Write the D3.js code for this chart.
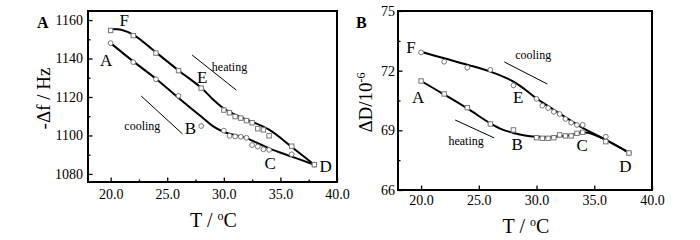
<!DOCTYPE html>
<html>
<head>
<meta charset="utf-8">
<style>
  body { margin: 0; background: #fff; }
  text { font-family: "Liberation Serif", "Times New Roman", serif; fill: #000; }
</style>
</head>
<body>
<svg id="chart" width="700" height="240"></svg>
<script src="https://cdn.jsdelivr.net/npm/d3@7"></script>
<script>
// ---- panel A: -Δf / Hz ----
const tempA = [20, 22, 24, 26, 28, 30, 30.5, 31, 31.5, 32, 32.5, 33, 33.5, 34, 36, 38]
const heatA = [1148, 1138.1, 1129.2, 1120.6, 1104.9, 1102.5, 1099.8, 1099.5, 1099.3, 1098.8, 1095, 1094.2, 1092.8, 1092.5, 1090.2, 1084.8]
const coolA = [1154.6, 1151.9, 1142.8, 1133.7, 1124.6, 1113.2, 1111.8, 1109.8, 1109, 1107.7, 1106.6, 1103.5, 1102.9, 1099.8, 1094.4, 1084.8]
// smooth guide curves
const fitHeatAT = [20, 22, 24, 26, 28, 29, 30, 31, 32, 34, 36, 38]
const fitHeatA = [1148, 1138.5, 1129.5, 1119.5, 1109.8, 1105, 1101.8, 1100.2, 1098.6, 1093.3, 1089, 1084.8]
const fitCoolAT = [20, 21, 22, 24, 26, 28, 29, 30, 31, 32, 34, 36, 38]
const fitCoolA = [1155.3, 1154.8, 1152.4, 1143.2, 1133.8, 1124.8, 1119, 1114, 1110.8, 1108.3, 1103, 1094, 1084.8]

// ---- panel B: ΔD / 10^-6 ----
const tempB = [20, 22, 24, 26, 28, 30, 30.5, 31, 31.5, 32, 32.5, 33, 33.5, 34, 36, 38]
const coolB = [72.92, 72.45, 72.15, 72.04, 71.26, 70.58, 70.24, 70.12, 69.93, 69.82, 69.57, 69.39, 69.27, 69.27, 68.68, 67.86]
const heatB = [71.48, 70.83, 70.14, 69.32, 69.02, 68.63, 68.6, 68.6, 68.63, 68.77, 68.72, 68.72, 68.85, 68.9, 68.43, 67.86]
const fitCoolBT = [20, 22, 24, 26, 28, 29, 30, 31, 32, 33, 34, 36, 38]
const fitCoolB = [72.95, 72.62, 72.3, 71.95, 71.45, 71.05, 70.6, 70.22, 69.84, 69.48, 69.12, 68.52, 67.88]
const fitHeatBT = [20, 22, 24, 26, 27, 28, 29, 30, 31, 32, 33, 34, 35, 36, 38]
const fitHeatB = [71.48, 70.8, 70.1, 69.35, 69.05, 68.87, 68.74, 68.68, 68.66, 68.7, 68.76, 68.9, 68.78, 68.52, 67.88]

// tick values
const xTicks = [20, 25, 30, 35, 40]
const xMinorA = [22.5, 27.5, 32.5, 37.5]
const yTicksA = [1080, 1100, 1120, 1140, 1160]
const yMinorA = [1090, 1110, 1130, 1150]
const yTicksB = [66, 69, 72, 75]
const yMinorB = [67.5, 70.5, 73.5]

// point letters and notes, in data units (x, y = text baseline)
const lettersA = [["F", 21.2, 1156.9], ["A", 19.6, 1136.1], ["E", 28.1, 1127.3], ["B", 27.05, 1100.8], ["C", 34.1, 1082.6], ["D", 39.0, 1081]]
const notesA = [["heating", 30.5, 1133.5], ["cooling", 22.8, 1102.9]]
const arrowsA = [[27.2, 1141.8, 31.1, 1123.6], [22.7, 1120.5, 26.35, 1100.8]]
const lettersB = [["F", 19.13, 72.89], ["A", 19.74, 70.38], ["E", 28.41, 70.38], ["B", 28.33, 68.02], ["C", 33.96, 67.96], ["D", 37.69, 66.91]]
const notesB = [["cooling", 29.71, 72.59], ["heating", 23.9, 68.27]]
const arrowsB = [[27.2, 72.44, 30.93, 71.33], [22.95, 69.52, 26.33, 68.62]]

let svg = d3.select("#chart")

function panel(cfg) {
    let x = d3.scaleLinear().domain([18, 40]).range([cfg.left, cfg.right])
    let y = d3.scaleLinear().domain(cfg.yDomain).range([cfg.bottom, cfg.top])
    let g = svg.append("g")

    // minor ticks first so majors sit on top
    if (cfg.xMinor) {
        g.append("g").attr("transform", `translate(0,${cfg.bottom})`)
            .call(d3.axisBottom(x).tickValues(cfg.xMinor).tickSize(-2.5).tickFormat(""))
            .call(a => a.select(".domain").remove())
    }
    g.append("g").attr("transform", `translate(${cfg.left},0)`)
        .call(d3.axisLeft(y).tickValues(cfg.yMinor).tickSize(-2.5).tickFormat(""))
        .call(a => a.select(".domain").remove())

    let xa = g.append("g").attr("transform", `translate(0,${cfg.bottom})`)
        .call(d3.axisBottom(x).tickValues(xTicks).tickSize(-4.5).tickPadding(cfg.xPad).tickFormat(d3.format(".1f")))
    xa.select(".domain").remove()
    let ya = g.append("g").attr("transform", `translate(${cfg.left},0)`)
        .call(d3.axisLeft(y).tickValues(cfg.yTicks).tickSize(-4.5).tickPadding(cfg.yPad).tickFormat(d3.format("d")))
    ya.select(".domain").remove()
    g.selectAll(".tick line").attr("stroke", "#000").attr("stroke-width", 1.3)
    g.selectAll(".tick text").style("font-family", "Liberation Serif").style("font-size", "14px")

    // frame
    g.append("rect")
        .attr("x", cfg.left).attr("y", cfg.top)
        .attr("width", cfg.right - cfg.left).attr("height", cfg.bottom - cfg.top)
        .attr("fill", "none").attr("stroke", "#000").attr("stroke-width", 2)

    let line = d3.line().x(d => x(d[0])).y(d => y(d[1])).curve(d3.curveCatmullRom.alpha(0.5))
    cfg.fits.forEach(f => {
        g.append("path").attr("d", line(d3.zip(f[0], f[1])))
            .attr("fill", "none").attr("stroke", "#000").attr("stroke-width", 2)
    })

    // markers
    cfg.series.forEach(s => {
        let pts = d3.zip(s.t, s.v)
        if (s.shape === "circle") {
            g.selectAll(null).data(pts).enter().append("circle")
                .attr("cx", d => x(d[0])).attr("cy", d => y(d[1])).attr("r", 2.4)
                .attr("fill", "#fff").attr("stroke", "#777").attr("stroke-width", 1)
        } else {
            g.selectAll(null).data(pts).enter().append("rect")
                .attr("x", d => x(d[0]) - 2.2).attr("y", d => y(d[1]) - 2.2)
                .attr("width", 4.4).attr("height", 4.4)
                .attr("fill", "#fff").attr("stroke", "#777").attr("stroke-width", 1)
        }
    })

    // annotations
    g.selectAll(null).data(cfg.letters).enter().append("text")
        .attr("x", d => x(d[1])).attr("y", d => y(d[2]))
        .attr("text-anchor", "middle").style("font-size", "17px")
        .text(d => d[0])
    g.selectAll(null).data(cfg.notes).enter().append("text")
        .attr("x", d => x(d[1])).attr("y", d => y(d[2]))
        .attr("text-anchor", "middle").style("font-size", "12px")
        .text(d => d[0])
    g.selectAll(null).data(cfg.arrows).enter().append("line")
        .attr("x1", d => x(d[0])).attr("y1", d => y(d[1]))
        .attr("x2", d => x(d[2])).attr("y2", d => y(d[3]))
        .attr("stroke", "#000").attr("stroke-width", 1)

    // titles
    g.append("text").attr("x", cfg.tag[0]).attr("y", 28)
        .style("font-size", "16px").style("font-weight", "bold").text(cfg.tag[1])
    g.append("text").attr("x", (cfg.left + cfg.right) / 2 + 1).attr("y", cfg.xTitleY)
        .attr("text-anchor", "middle").style("font-size", "20px")
        .html("T / <tspan dy='-7' font-size='12px'>o</tspan><tspan dy='7'>C</tspan>")
    let yt = g.append("text")
        .attr("transform", `translate(${cfg.yTitleX},${(cfg.top + cfg.bottom) / 2 + 2}) rotate(-90)`)
        .attr("text-anchor", "middle").style("font-size", "19px")
    yt.html(cfg.yTitle)
}

panel({
    left: 88, right: 337, top: 11, bottom: 182,
    yDomain: [1075.8, 1164.7],
    xMinor: xMinorA, yTicks: yTicksA, yMinor: yMinorA,
    xPad: 7, yPad: 5,
    fits: [[fitHeatAT, fitHeatA], [fitCoolAT, fitCoolA]],
    series: [{ t: tempA, v: heatA, shape: "circle" }, { t: tempA, v: coolA, shape: "square" }],
    letters: lettersA, notes: notesA, arrows: arrowsA,
    tag: [37, "A"], xTitleY: 227, yTitleX: 50,
    yTitle: "-Δf / Hz"
})

panel({
    left: 398, right: 652, top: 11, bottom: 190,
    yDomain: [66, 75],
    xMinor: null, yTicks: yTicksB, yMinor: yMinorB,
    xPad: 5, yPad: 3,
    fits: [[fitHeatBT, fitHeatB], [fitCoolBT, fitCoolB]],
    series: [{ t: tempB, v: coolB, shape: "circle" }, { t: tempB, v: heatB, shape: "square" }],
    letters: lettersB, notes: notesB, arrows: arrowsB,
    tag: [356, "B"], xTitleY: 233, yTitleX: 372,
    yTitle: "ΔD/10<tspan dy='-7' font-size='12px'>-6</tspan>"
})
</script>
</body>
</html>
